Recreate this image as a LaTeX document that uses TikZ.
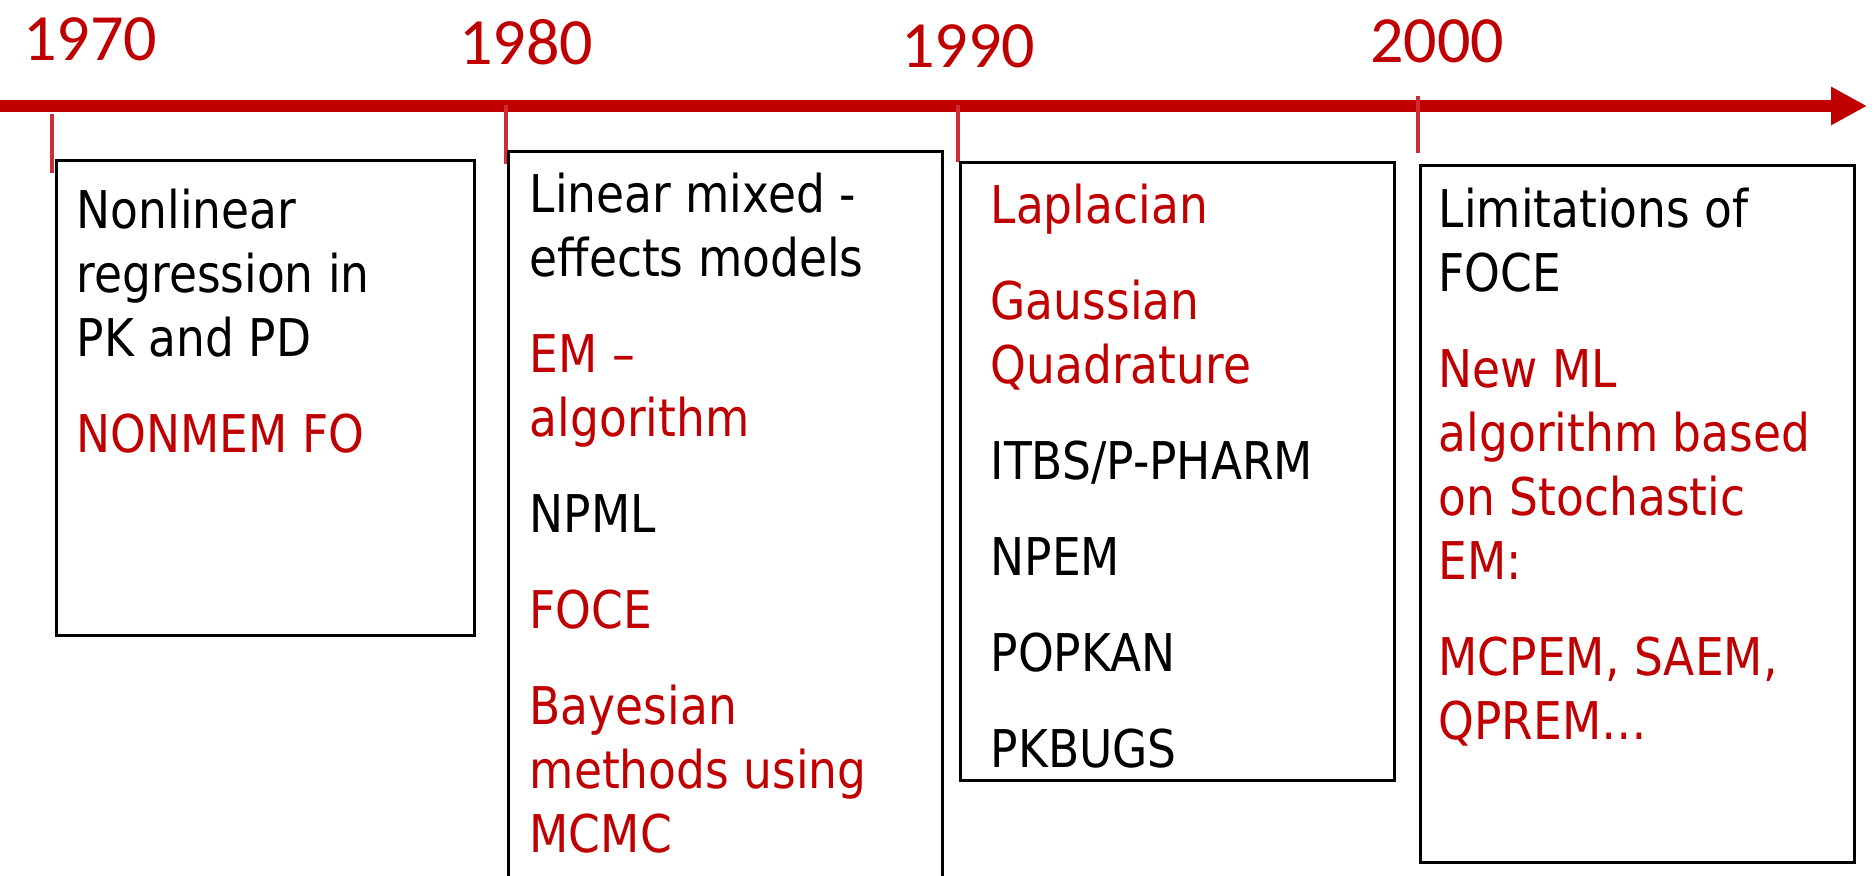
\documentclass[tikz,border=0pt]{standalone}
\usepackage{fontspec}
\setmainfont[FakeStretch=0.875]{DejaVu Sans}
\newfontfamily\yearfont{Carlito}
\usepackage{xcolor}
\usepackage{tikz}
\usetikzlibrary{arrows.meta,positioning}

\definecolor{tlred}{RGB}{192,0,0}
\definecolor{tickred}{RGB}{208,44,52}
\newcommand{\hl}[1]{\textcolor{tlred}{#1}}

\begin{document}
\begin{tikzpicture}[>=Triangle,
  box/.style={draw,line width=0.75pt,anchor=north west,inner sep=0pt},
  item/.style={anchor=north west,inner sep=0pt,align=left,font=\fontsize{14.8}{18.2}\selectfont},
  year/.style={font=\yearfont\fontsize{18.8}{22}\selectfont,text=tlred},
  tick/.style={tickred,line width=1.1pt}]
  \useasboundingbox (0,0) rectangle (18.76,-8.76);
  % time axis
  \coordinate (start) at (0,-1.06);
  \coordinate (end) at (18.67,-1.06);
  \draw[tlred,line width=0.12cm,-{Triangle[length=0.36cm,width=0.36cm]}] (start) -- (end);
  \foreach \x/\a/\b in {0.52/-1.14/-1.73,5.06/-1.05/-1.64,9.58/-1.05/-1.62,14.18/-0.96/-1.53}
    \draw[tick] (\x,\a)--(\x,\b);
  % years
  \node[year] (y1970) at (0.90,-0.39) {1970};
  \node[year] (y1980) at (5.26,-0.42) {1980};
  \node[year] (y1990) at (9.68,-0.46) {1990};
  \node[year] (y2000) at (14.37,-0.41) {2000};
  % boxes
  \node[box,minimum width=4.18cm,minimum height=4.75cm] (b1970) at (0.55,-1.59) {};
  \node[box,minimum width=4.34cm,minimum height=7.35cm] (b1980) at (5.07,-1.50) {};
  \node[box,minimum width=4.34cm,minimum height=6.18cm] (b1990) at (9.59,-1.61) {};
  \node[box,minimum width=4.34cm,minimum height=6.97cm] (b2000) at (14.19,-1.64) {};
  % contents
  \node[item,below right=0.295cm and 0.21cm of b1970.north west] (t1970)
    {Nonlinear\\ regression in\\ PK and PD\\[9.1pt] \hl{NONMEM FO}};
  \node[item,below right=0.225cm and 0.22cm of b1980.north west] (t1980)
    {Linear mixed -\\ effects models\\[9.1pt] \hl{EM –}\\ \hl{algorithm}\\[9.1pt] NPML\\[9.1pt]
     \hl{FOCE}\\[9.1pt] \hl{Bayesian}\\ \hl{methods using}\\ \hl{MCMC}};
  \node[item,below right=0.225cm and 0.31cm of b1990.north west] (t1990)
    {\hl{Laplacian}\\[9.1pt] \hl{Gaussian}\\ \hl{Quadrature}\\[9.1pt] ITBS/P-PHARM\\[9.1pt]
     NPEM\\[9.1pt] POPKAN\\[9.1pt] PKBUGS};
  \node[item,below right=0.235cm and 0.19cm of b2000.north west] (t2000)
    {Limitations of\\ FOCE\\[9.1pt] \hl{New ML}\\ \hl{algorithm based}\\ \hl{on Stochastic}\\ \hl{EM:}\\[9.1pt]
     \hl{MCPEM, SAEM,}\\ \hl{QPREM…}};
\end{tikzpicture}
\end{document}
